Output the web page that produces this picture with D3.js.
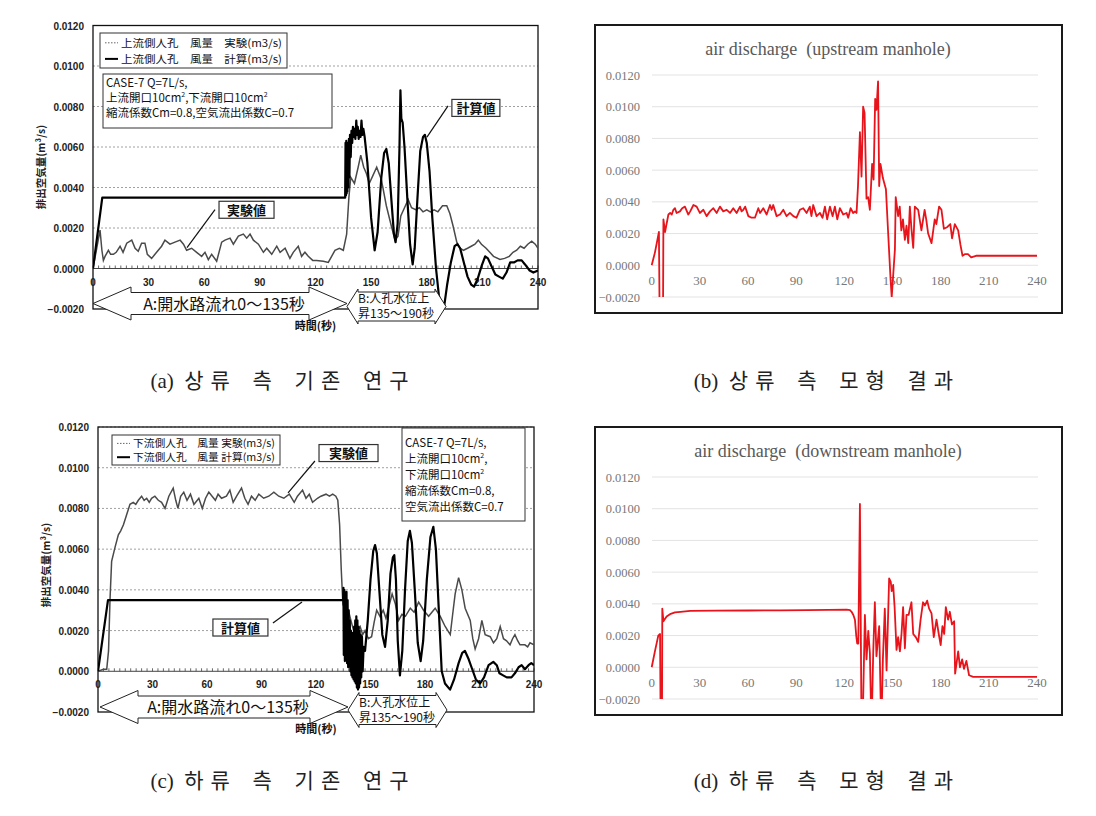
<!DOCTYPE html>
<html>
<head>
<meta charset="utf-8">
<script src="https://cdn.jsdelivr.net/npm/d3@7"></script>
<style>
body { margin: 0; background: #fff; }
</style>
</head>
<body>
<svg id="fig" width="1096" height="816"></svg>
<script>
// axis ticks shared by the four panels
var timeTicks = [0, 30, 60, 90, 120, 150, 180, 210, 240];
var valueTicks = [-0.002, 0, 0.002, 0.004, 0.006, 0.008, 0.010, 0.012];

// (a) upstream manhole, previous study: [time s, m3/s]
var upstreamExp = [[0,0],[2,0.0010],[3.8,0.0019],[4.8,0.0009],[5.6,0.0004],[6.5,0.0006],[8.3,0.0009],[9.5,0.0007],[11,0.0007],[12.5,0.0008],[14.6,0.0011],[16.2,0.0008],[18.2,0.00125],[20.9,0.0014],[22.7,0.0010],[24.4,0.00085],[26.2,0.00125],[28,0.00125],[29.3,0.0007],[31.6,0.0005],[34.3,0.0008],[37,0.0011],[38.8,0.0014],[41.5,0.0012],[44.2,0.0013],[47,0.0014],[48.8,0.0012],[50.5,0.0009],[53.2,0.0010],[55.9,0.0008],[58.6,0.0006],[60.4,0.0008],[62.2,0.00044],[64,0.0007],[66.7,0.00036],[69.4,0.0013],[71.2,0.0014],[73.9,0.0015],[75.7,0.0012],[78.4,0.0016],[81.1,0.0017],[82.9,0.0015],[84.7,0.0017],[86.5,0.0014],[89.2,0.0012],[91.9,0.0008],[93.7,0.0010],[96.4,0.0007],[99.1,0.0011],[100.9,0.0008],[103.6,0.0010],[106.2,0.0005],[108,0.0008],[110.7,0.0011],[112.5,0.0006],[114.3,0.0008],[116.1,0.0006],[118.5,0.0004],[120.6,0.0004],[124.2,0.00036],[126.9,0.0003],[128.7,0.0006],[130.5,0.0009],[132.9,0.0010],[135,0.0009],[136.8,0.0017],[138,0.0035],[139,0.0045],[141,0.0042],[143,0.0050],[144.4,0.0056],[146,0.0050],[147.4,0.0047],[149,0.0042],[151,0.0046],[153,0.0050],[155.5,0.0044],[158.2,0.0031],[160.9,0.0021],[162.9,0.0014],[164.5,0.0016],[166,0.0026],[168,0.0030],[170,0.0034],[171.8,0.0030],[174,0.0029],[176,0.0030],[178,0.0028],[180,0.0029],[182,0.0028],[184,0.0029],[186,0.0028],[188.5,0.0031],[190.8,0.0031],[192.5,0.0027],[194.2,0.0021],[196.2,0.0013],[198,0.0010],[199.8,0.0009],[202,0.0010],[204,0.0011],[206,0.0012],[207.8,0.0014],[209.5,0.0012],[212,0.0010],[214,0.0008],[216,0.0006],[219.5,0.00045],[222,0.0005],[224.5,0.0006],[226.5,0.0008],[228.5,0.0009],[230.5,0.0011],[232.5,0.0010],[234.5,0.0012],[236.6,0.00135],[238.5,0.0012],[240,0.0010]];
var upstreamCalc = [[0,0],[5,0.0035],[136,0.0035],[136.2,0.0062],[136.4,0.0036],[136.6,0.0063],[136.8,0.0037],[137,0.0058],[137.2,0.0038],[137.5,0.0062],[137.8,0.0040],[138,0.0064],[138.3,0.0045],[138.6,0.0066],[139,0.0055],[139.4,0.0068],[139.8,0.0062],[140.2,0.0070],[140.6,0.0065],[141,0.0069],[141.5,0.0064],[142,0.0073],[142.4,0.0066],[142.8,0.0070],[143.3,0.0064],[143.8,0.0068],[144.3,0.0065],[144.8,0.0073],[145.3,0.0066],[145.8,0.0069],[146.5,0.0065],[148,0.0052],[150,0.0025],[151.9,0.0009],[153.5,0.0018],[155.5,0.0045],[157,0.0057],[158.2,0.0059],[159.5,0.0052],[161,0.0033],[162.3,0.0017],[163.2,0.0013],[164.3,0.0022],[165.3,0.0060],[165.8,0.0088],[166.3,0.0074],[167,0.0072],[168,0.0060],[169.5,0.0035],[171,0.0012],[172.4,0.0002],[173.5,0.0010],[175,0.0035],[176.5,0.0058],[178,0.0065],[179,0.0066],[180,0.0062],[181.5,0.0048],[183,0.0025],[185,0.0000],[186.5,-0.0013],[188,-0.0021],[189.5,-0.0018],[191,-0.0008],[193,0.0003],[195,0.0011],[196.5,0.0012],[198,0.0010],[200,0.0003],[202,-0.0004],[204,-0.0008],[205.5,-0.0009],[207.5,-0.0005],[209.5,0.0001],[211.5,0.0006],[213,0.0005],[215,0.0001],[217,-0.0003],[219,-0.0004],[221,-0.0005],[223,-0.0002],[225,0.0003],[227,0.0003],[229,0.0004],[231.2,0.0004],[233,0.0002],[235.5,-0.0001],[237.5,-0.0002],[240,-0.0001]];

// (c) downstream manhole, previous study
var downstreamExp = [[0,0],[3,0.0001],[4.8,0.0001],[5.8,0.0010],[6.6,0.0035],[7.5,0.0054],[9.4,0.0061],[11.2,0.0067],[12.5,0.0069],[14,0.0072],[15.8,0.0077],[17.6,0.0082],[19.4,0.0083],[20.8,0.0082],[22.2,0.0084],[24,0.0086],[25.4,0.0084],[26.8,0.0085],[28.2,0.0083],[29.5,0.0085],[31.3,0.0086],[33.2,0.0084],[35,0.0083],[36.9,0.0080],[39,0.0086],[41.4,0.0090],[42.8,0.0084],[44,0.0080],[45.5,0.0086],[47.2,0.0088],[49,0.0084],[50.9,0.0087],[52.8,0.0082],[55.5,0.0085],[57.4,0.0080],[59.2,0.0085],[61,0.0088],[62.8,0.0086],[64.6,0.0084],[66.1,0.0087],[68,0.0085],[70.7,0.0086],[72.6,0.0089],[74.4,0.0083],[76.3,0.0086],[79,0.0090],[80.8,0.0085],[82.6,0.0082],[84.5,0.0086],[86.5,0.0084],[88.5,0.0087],[91.2,0.0085],[94,0.0086],[96.8,0.0088],[99.5,0.0086],[102.3,0.0085],[105.3,0.0087],[108,0.0083],[109.8,0.0086],[112.6,0.0089],[114.5,0.0085],[116.3,0.0087],[118.1,0.0083],[120.8,0.0085],[122.7,0.0086],[125.5,0.0087],[127.4,0.0086],[129.2,0.0087],[130.9,0.0086],[132,0.0084],[133,0.0072],[133.9,0.0050],[134.8,0.0033],[136,0.0030],[137.8,0.0030],[139.5,0.0024],[141.6,0.0017],[143,0.0020],[144.3,0.0022],[145.7,0.0018],[147,0.0020],[148.8,0.0016],[150.6,0.0017],[152,0.0024],[153.4,0.0030],[155.2,0.0027],[157,0.0030],[158.5,0.0026],[160.2,0.0032],[161.9,0.0038],[163.7,0.0033],[165.5,0.0025],[167.3,0.0028],[169.2,0.0027],[171.9,0.0031],[174,0.0029],[176.5,0.0034],[179.2,0.0030],[182,0.0027],[183.8,0.0029],[185.6,0.0031],[188.4,0.0027],[191.1,0.0022],[193.9,0.0018],[195.5,0.0030],[196.6,0.0038],[198.5,0.0046],[200.3,0.0040],[202.1,0.0031],[204.9,0.0025],[206.3,0.0016],[207.6,0.0011],[209.5,0.0016],[211.3,0.0025],[213.1,0.0018],[215.9,0.0017],[217.7,0.0014],[219.5,0.0016],[221.4,0.0022],[223.2,0.0016],[224.9,0.0015],[226.8,0.0013],[228.2,0.0016],[229.5,0.0018],[231,0.0015],[232.3,0.0013],[235,0.0013],[236.5,0.0012],[237.8,0.0014],[240,0.0013]];
var downstreamCalc = [[0,0],[5.5,0.0035],[134.9,0.0035],[135.1,0.0041],[135.3,0.0008],[135.6,0.0040],[135.9,0.0005],[136.2,0.0038],[136.5,0.0006],[136.8,0.0039],[137.1,0.0004],[137.4,0.0035],[137.7,0.0002],[138,0.0030],[138.3,0.0003],[138.6,0.0025],[138.9,0.0000],[139.2,0.0020],[139.5,-0.0002],[139.8,0.0018],[140.1,-0.0003],[140.4,0.0019],[140.7,-0.0004],[141,0.0022],[141.3,-0.0005],[141.6,0.0025],[141.9,-0.0006],[142.2,0.0027],[142.5,-0.0008],[142.8,0.0025],[143.1,-0.0009],[143.4,0.0022],[143.7,-0.0008],[144,0.0020],[144.3,-0.0006],[144.6,0.0018],[144.9,-0.0003],[145.3,0.0017],[145.7,0.0000],[146.2,0.0012],[147,0.0010],[148.5,0.0025],[150,0.0045],[151.5,0.0059],[152.5,0.0062],[153.5,0.0058],[155,0.0038],[156.5,0.0018],[158,0.0012],[159.5,0.0025],[161,0.0048],[162.3,0.0056],[163.1,0.0057],[164,0.0045],[165,0.0015],[166.2,-0.0002],[167.5,0.0010],[169,0.0040],[170.5,0.0064],[171.7,0.0069],[172.8,0.0063],[174.5,0.0038],[176,0.0014],[177.6,0.0005],[179,0.0015],[181,0.0045],[183,0.0066],[184.6,0.0071],[186,0.0060],[187.5,0.0032],[189.2,0.0000],[191,-0.0006],[193.8,-0.0009],[196,-0.0004],[198.5,0.0004],[200.5,0.0009],[202,0.0010],[204,0.0006],[206,0.0001],[208,-0.0004],[210.3,-0.0006],[212.5,-0.0003],[215,0.0003],[217.6,0.00046],[219.5,0.0003],[221,-0.0001],[223,-0.0002],[225,-0.0003],[227.6,-0.0003],[229.5,-0.0001],[231.5,0.0002],[233.2,0.0003],[235,0.0001],[237,0.0003],[238.5,0.0004],[240,0.0003]];

// (b) and (d) model results
var upstreamModel = [[0,0],[2,0.0008],[4.5,0.0021],[5,-0.004],[7,-0.004],[7.3,0.0029],[8.3,0.0021],[10.4,0.0032],[11.5,0.0033],[12.5,0.0032],[13.5,0.0035],[14.5,0.0036],[15.5,0.0033],[17.6,0.0034],[19,0.0036],[20.7,0.0037],[22.8,0.0032],[24,0.0034],[26,0.0038],[28,0.0037],[30,0.0033],[32.2,0.0035],[34.2,0.0031],[36.3,0.0034],[38.4,0.0036],[40.5,0.0033],[42.5,0.0037],[44.6,0.0034],[46.7,0.0035],[48.8,0.0033],[50.8,0.0036],[52.9,0.0033],[55,0.0037],[56,0.0034],[57.1,0.0035],[58.2,0.0037],[60.2,0.0031],[62.2,0.0030],[64.3,0.0030],[66.4,0.0036],[67.5,0.0033],[69.5,0.0036],[71.6,0.0032],[73.7,0.0038],[74.7,0.0035],[75.7,0.0038],[77.8,0.0031],[79.9,0.0032],[82,0.0035],[84,0.0031],[86.1,0.0033],[88.2,0.0031],[90.2,0.0030],[92.3,0.0035],[94.4,0.0036],[96.5,0.0033],[98.5,0.0037],[99.5,0.0031],[100.6,0.0038],[102.7,0.0031],[104.8,0.0033],[106.4,0.0030],[107.9,0.0037],[109.3,0.0029],[111,0.0037],[112.7,0.0031],[114.1,0.0037],[115.6,0.0029],[117.2,0.0036],[119.3,0.0032],[121.4,0.0033],[122.4,0.0030],[123.9,0.0036],[125.5,0.0033],[126.6,0.0034],[127.6,0.0033],[128.5,0.0050],[129.7,0.0084],[130.7,0.0056],[131.7,0.0100],[132.6,0.0096],[133.8,0.0042],[134.8,0.0043],[135.9,0.0035],[137.3,0.0064],[138.2,0.0054],[139.2,0.0105],[140,0.0098],[141,0.0116],[141.7,0.0050],[142.5,0.0064],[144,0.0055],[145.9,0.0048],[147.3,0.0020],[148.8,-0.0009],[149.5,-0.0020],[150.5,-0.0005],[151.5,0.0010],[152,0.0043],[153.5,0.0031],[154.5,0.0037],[155.5,0.0022],[156.5,0.0029],[157.7,0.0016],[158.7,0.0025],[159.8,0.0014],[160.8,0.0037],[161.8,0.0023],[162.9,0.0011],[163.9,0.0037],[166,0.0035],[168,0.0022],[170,0.0035],[171,0.0029],[172.2,0.0020],[174.3,0.0014],[176.3,0.0029],[177.3,0.0026],[179,0.0037],[180.5,0.0035],[182,0.0023],[184,0.0024],[186,0.0026],[187.1,0.0017],[188.8,0.0026],[190.9,0.0022],[192.3,0.0013],[193.6,0.0006],[195,0.0007],[197,0.0007],[199,0.0005],[202,0.0006],[240,0.0006]];
var downstreamModel = [[0,0],[2,0.0010],[4.1,0.0020],[5.2,0.0021],[5.6,-0.004],[6.4,-0.004],[6.6,0.0037],[7.3,0.0029],[9.3,0.0032],[11.4,0.00335],[14.5,0.00346],[18,0.0035],[24,0.00356],[40,0.00357],[60,0.00358],[80,0.00359],[96.5,0.0036],[110,0.00362],[121.4,0.00364],[123.5,0.0036],[124.5,0.0035],[125.6,0.0033],[126.6,0.0030],[127.4,0.0020],[128,0.0015],[128.7,0.0015],[129.7,0.0103],[130.7,-0.004],[131.3,-0.004],[132.8,0.0033],[133.8,0.0005],[134.9,0.0023],[135.9,0.0009],[136.9,-0.004],[138,0.0010],[139,0.0041],[140,0.0007],[141.7,0.0026],[143,-0.004],[144,0.0005],[145.2,0.0037],[146.3,-0.0002],[147.9,0.0056],[148.9,0.0054],[149.5,0.0048],[150.4,0.0052],[151.3,0.0038],[152.5,0.0011],[153.5,0.0019],[154.6,0.0010],[155.6,0.0021],[156.6,0.0038],[157.7,0.0012],[158.7,0.0033],[160,0.0033],[161.8,0.0041],[162.9,0.0021],[164.5,0.0019],[166,0.0016],[167.5,0.0030],[169,0.0041],[170.2,0.0039],[171.6,0.0042],[172.8,0.0037],[174.3,0.0034],[175.7,0.0019],[177.4,0.0030],[178.8,0.0021],[180,0.0014],[181.1,0.0026],[182.2,0.0021],[183.2,0.0038],[184.6,0.0030],[185.7,0.0035],[187,0.0027],[188.4,0.0029],[189,-0.0004],[190.9,0.0010],[192,0.0000],[193.4,0.0005],[194.5,-0.0001],[196,0.0004],[197.7,-0.0005],[200.2,-0.0006],[240,-0.0006]];

var captions = ["(a) 상류 측 기존 연구", "(b) 상류 측 모형 결과", "(c) 하류 측 기존 연구", "(d) 하류 측 모형 결과"];
var modelTitles = ["air discharge  (upstream manhole)", "air discharge  (downstream manhole)"];

var svg = d3.select("#fig");
svg.append("rect").attr("width", 1096).attr("height", 816).attr("fill", "#fff");

var fmt = d3.format(".4f");
var jp = "'Noto Sans CJK JP', sans-serif";
var clipCount = 0;

function clipFor(g, x0, y0, w, h) {
	var id = "clip" + (clipCount++);
	g.append("clipPath").attr("id", id).append("rect")
		.attr("x", x0).attr("y", y0).attr("width", w).attr("height", h);
	return "url(#" + id + ")";
}

function doubleArrow(g, x1, x2, cy, headW, halfH, shaftH) {
	var pts = [[x1, cy], [x1 + headW, cy - halfH], [x1 + headW, cy - shaftH], [x2 - headW, cy - shaftH],
		[x2 - headW, cy - halfH], [x2, cy], [x2 - headW, cy + halfH], [x2 - headW, cy + shaftH],
		[x1 + headW, cy + shaftH], [x1 + headW, cy + halfH]];
	g.append("polygon").attr("points", pts.map(p => p.join(",")).join(" "))
		.attr("fill", "#fff").attr("stroke", "#222").attr("stroke-width", 1);
}

// Scanned panels (a), (c)

function scanPanel(o) {
	var g = svg.append("g");
	var x = d3.scaleLinear().domain([0, 240]).range([o.left, o.right]);
	var y = d3.scaleLinear().domain([-0.002, 0.012]).range([o.bottom, o.top]);

	g.selectAll(".grid").data(valueTicks.filter(v => v > 0)).enter().append("line")
		.attr("x1", o.left).attr("x2", o.right)
		.attr("y1", d => y(d)).attr("y2", d => y(d))
		.attr("stroke", "#888").attr("stroke-width", 0.8).attr("stroke-dasharray", "2,2");

	// zero line with small ticks every 3 s
	g.append("line").attr("x1", o.left).attr("x2", o.right).attr("y1", y(0)).attr("y2", y(0))
		.attr("stroke", "#444").attr("stroke-width", 1);
	g.selectAll(".mt").data(d3.range(0, 241, 3)).enter().append("line")
		.attr("x1", d => x(d)).attr("x2", d => x(d)).attr("y1", y(0)).attr("y2", y(0) - 3)
		.attr("stroke", "#444").attr("stroke-width", 0.8);

	g.append("rect").attr("x", o.left).attr("y", o.top).attr("width", o.right - o.left)
		.attr("height", o.bottom - o.top).attr("fill", "none").attr("stroke", "#111").attr("stroke-width", 1.3);

	g.selectAll(".yl").data(valueTicks).enter().append("text")
		.attr("x", o.left - 9).attr("y", d => y(d) + 4).attr("text-anchor", "end")
		.attr("font-family", "'Liberation Sans', Arial").attr("font-weight", "bold")
		.attr("font-size", 10).attr("fill", "#222").text(fmt);

	g.selectAll(".xl").data(timeTicks).enter().append("text")
		.attr("x", d => x(d)).attr("y", y(0) + 17).attr("text-anchor", "middle")
		.attr("font-family", "'Liberation Sans', Arial").attr("font-weight", "bold")
		.attr("font-size", 10).attr("fill", "#222").text(d => d);

	g.append("text").attr("transform", "translate(" + (o.left - 48) + "," + o.titleY + ") rotate(-90)")
		.attr("text-anchor", "middle").attr("font-family", jp).attr("font-weight", "bold")
		.attr("font-size", 10.5).attr("fill", "#222").text("排出空気量(m³/s)");

	var clip = clipFor(g, o.left, o.top, o.right - o.left, o.bottom - o.top);
	var line = d3.line().x(d => x(d[0])).y(d => y(d[1]));
	g.append("path").datum(o.exp).attr("d", line).attr("clip-path", clip)
		.attr("fill", "none").attr("stroke", "#4a4a4a").attr("stroke-width", 1.5);
	g.append("path").datum(o.calc).attr("d", line).attr("clip-path", clip)
		.attr("fill", "none").attr("stroke", "#000").attr("stroke-width", 2.2).attr("stroke-linejoin", "round");

	// legend
	var L = o.legend;
	g.append("rect").attr("x", L.x).attr("y", L.y).attr("width", L.w).attr("height", L.h)
		.attr("fill", "#fff").attr("stroke", "#333").attr("stroke-width", 1);
	[0, 1].forEach(i => {
		var ly = L.y + L.h * (i === 0 ? 0.28 : 0.74);
		g.append("line").attr("x1", L.x + 5).attr("x2", L.x + 18).attr("y1", ly).attr("y2", ly)
			.attr("stroke", i === 0 ? "#666" : "#000").attr("stroke-width", i === 0 ? 1 : 2)
			.attr("stroke-dasharray", i === 0 ? "1.5,1.5" : null);
		g.append("text").attr("x", L.x + 21).attr("y", ly + 4).attr("font-family", jp)
			.attr("font-size", 10.5).attr("fill", "#111").attr("textLength", L.w - 26)
			.attr("lengthAdjust", "spacingAndGlyphs").text(o.legendText[i]);
	});

	// condition box
	var B = o.box;
	g.append("rect").attr("x", B.x).attr("y", B.y).attr("width", B.w).attr("height", B.h)
		.attr("fill", "#fff").attr("stroke", "#333").attr("stroke-width", 1);
	B.lines.forEach((t, i) => {
		var tx = g.append("text").attr("x", B.x + 3).attr("y", B.y + B.first + i * B.step)
			.attr("font-family", jp).attr("font-size", 11.5).attr("fill", "#111");
		t.split("^").forEach((part, k) => {
			if (k === 0) tx.append("tspan").text(part);
			else {
				tx.append("tspan").attr("dy", -5).attr("font-size", 7).text("2");
				tx.append("tspan").attr("dy", 5).text(part);
			}
		});
	});

	// callouts anchored in data space
	o.callouts.forEach(c => {
		g.append("line").attr("x1", x(c.from[0])).attr("y1", y(c.from[1]))
			.attr("x2", x(c.to[0])).attr("y2", y(c.to[1])).attr("stroke", "#111").attr("stroke-width", 1.2);
		g.append("rect").attr("x", x(c.at[0]) - c.w / 2).attr("y", y(c.at[1]) - 8.5)
			.attr("width", c.w).attr("height", 17).attr("fill", "#fff").attr("stroke", "#333").attr("stroke-width", 1.2);
		g.append("text").attr("x", x(c.at[0])).attr("y", y(c.at[1]) + 5).attr("text-anchor", "middle")
			.attr("font-family", jp).attr("font-weight", "bold").attr("font-size", 13).attr("fill", "#111").text(c.label);
	});

	// period arrows
	var A = o.arrows;
	doubleArrow(g, A.a1, A.a2, A.cy, A.headA, 16.5, 11);
	g.append("text").attr("x", (A.a1 + A.a2) / 2 + 4).attr("y", A.cy + 6).attr("text-anchor", "middle")
		.attr("font-family", jp).attr("font-size", 16).attr("fill", "#111").text("A:開水路流れ0〜135秒");
	var bc = A.cy + A.bShift;
	doubleArrow(g, A.a2, A.b2, bc, 11, 17.5, 14.5);
	g.append("text").attr("x", A.a2 + 11).attr("y", bc - 3.5).attr("font-family", jp)
		.attr("font-size", 12).attr("fill", "#111").text("B:人孔水位上");
	g.append("text").attr("x", A.a2 + 11).attr("y", bc + 11.5).attr("font-family", jp)
		.attr("font-size", 12).attr("fill", "#111").text("昇135〜190秒");
	g.append("text").attr("x", x(120)).attr("y", A.cy + 26).attr("text-anchor", "middle")
		.attr("font-family", jp).attr("font-weight", "bold").attr("font-size", 11).attr("fill", "#111").text("時間(秒)");
}

scanPanel({
	left: 93, right: 538, top: 25.5, bottom: 309, titleY: 167,
	exp: upstreamExp, calc: upstreamCalc,
	legend: {x: 100, y: 33, w: 187, h: 35},
	legendText: ["上流側人孔　風量　実験(m3/s)", "上流側人孔　風量　計算(m3/s)"],
	box: {x: 103, y: 74, w: 229, h: 54, first: 13, step: 15,
		lines: ["CASE-7 Q=7L/s,", "上流開口10cm^,下流開口10cm^", "縮流係数Cm=0.8,空気流出係数C=0.7"]},
	callouts: [
		{label: "実験値", at: [82.8, 0.0029], w: 55, from: [65.8, 0.00291], to: [50.7, 0.00103]},
		{label: "計算値", at: [206.5, 0.00793], w: 48, from: [191.5, 0.00803], to: [180.1, 0.00649]}
	],
	arrows: {a1: 93, a2: 347, b2: 446, cy: 303.5, headA: 38, bShift: 3}
});

scanPanel({
	left: 98, right: 534, top: 427, bottom: 712, titleY: 565,
	exp: downstreamExp, calc: downstreamCalc,
	legend: {x: 112, y: 435, w: 168, h: 30},
	legendText: ["下流側人孔　風量 実験(m3/s)", "下流側人孔　風量 計算(m3/s)"],
	box: {x: 402, y: 428, w: 123, h: 93, first: 19, step: 16,
		lines: ["CASE-7 Q=7L/s,", "上流開口10cm^,", "下流開口10cm^", "縮流係数Cm=0.8,", "空気流出係数C=0.7"]},
	callouts: [
		{label: "実験値", at: [137.9, 0.01072], w: 59, from: [119.4, 0.01033], to: [104.6, 0.00876]},
		{label: "計算値", at: [78.4, 0.00215], w: 55, from: [96.3, 0.00237], to: [112.3, 0.0034]}
	],
	arrows: {a1: 100, a2: 348, b2: 447, cy: 707, headA: 38, bShift: 3}
});

// Excel-style model panels (b), (d)

function modelPanel(o) {
	var g = svg.append("g");
	var x = d3.scaleLinear().domain([0, 240]).range([651.7, 1037]);
	var y = d3.scaleLinear().domain([-0.002, 0.012]).range([o.bottom, o.top]);

	g.append("rect").attr("x", 595).attr("y", o.boxTop).attr("width", 467).attr("height", o.boxH)
		.attr("fill", "#fff").attr("stroke", "#1a1a1a").attr("stroke-width", 2);

	g.selectAll(".grid").data(valueTicks).enter().append("line")
		.attr("x1", 652).attr("x2", 1038).attr("y1", d => y(d)).attr("y2", d => y(d))
		.attr("stroke", "#e3e3e3").attr("stroke-width", 1);

	g.selectAll(".yl").data(valueTicks).enter().append("text")
		.attr("x", 640).attr("y", d => y(d) + 4.5).attr("text-anchor", "end")
		.attr("font-family", "'Liberation Serif', serif").attr("font-size", 12.5).attr("fill", "#777").text(fmt);

	g.selectAll(".xl").data(timeTicks).enter().append("text")
		.attr("x", d => x(d)).attr("y", y(0) + 20).attr("text-anchor", "middle")
		.attr("font-family", "'Liberation Serif', serif").attr("font-size", 13).attr("fill", "#777").text(d => d);

	g.append("text").attr("x", o.titleX).attr("y", o.titleY).attr("text-anchor", "middle")
		.attr("font-family", "'Liberation Serif', serif").attr("font-size", 18).attr("fill", "#595959")
		.attr("xml:space", "preserve").text(o.title);

	var clip = clipFor(g, 640, o.top, 420, o.bottom - o.top);
	g.append("path").datum(o.data)
		.attr("d", d3.line().x(d => x(d[0])).y(d => y(d[1])))
		.attr("clip-path", clip).attr("fill", "none").attr("stroke", "#e8141b")
		.attr("stroke-width", 1.8).attr("stroke-linejoin", "round");
}

modelPanel({boxTop: 25, boxH: 288, top: 75, bottom: 297, title: modelTitles[0], titleX: 828, titleY: 55, data: upstreamModel});
modelPanel({boxTop: 427, boxH: 288, top: 477, bottom: 699, title: modelTitles[1], titleX: 828, titleY: 457, data: downstreamModel});

// captions: serif panel letter, then spaced Korean words
var capPos = [[283, 388], [827, 388], [283, 788], [827, 788]];
captions.forEach((c, i) => {
	var cut = c.indexOf(" ");
	var t = svg.append("text").attr("x", capPos[i][0]).attr("y", capPos[i][1]).attr("text-anchor", "middle")
		.attr("fill", "#222");
	t.append("tspan").attr("font-family", "'Liberation Serif', serif").attr("font-size", 21)
		.attr("xml:space", "preserve").text(c.slice(0, cut) + "  ");
	t.append("tspan").attr("font-family", "'Noto Sans CJK KR', sans-serif").attr("font-size", 21)
		.attr("letter-spacing", 7).attr("word-spacing", 4).text(c.slice(cut + 1));
});
</script>
</body>
</html>
